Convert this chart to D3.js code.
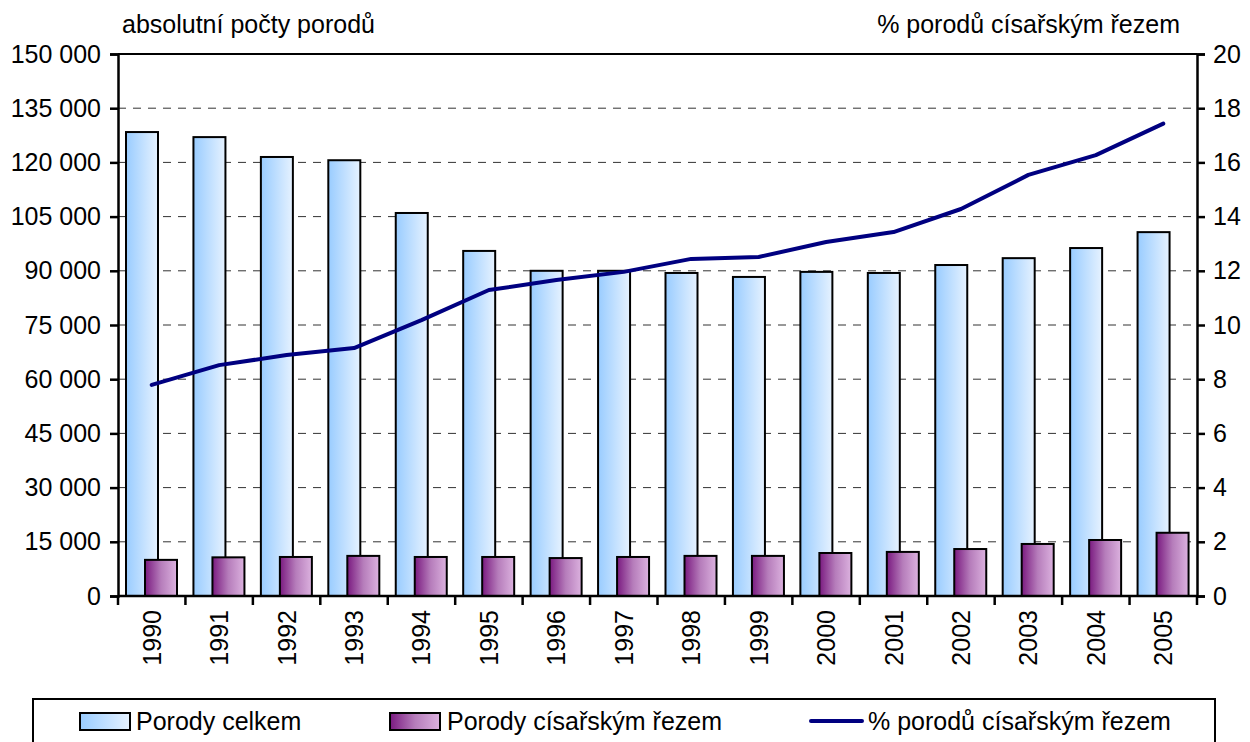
<!DOCTYPE html>
<html>
<head>
<meta charset="utf-8">
<script src="https://cdn.jsdelivr.net/npm/d3@7"></script>
<style>
body { margin: 0; background: #fff; }
text { font-family: "Liberation Sans", Arial, sans-serif; fill: #000; }
</style>
</head>
<body>
<script>
var width = 1250;
var height = 742;

var years = ['1990','1991','1992','1993','1994','1995','1996','1997','1998','1999','2000','2001','2002','2003','2004','2005'];
var porodyCelkem = [128400, 127000, 121500, 120600, 106000, 95500, 90000, 90000, 89400, 88300, 89700, 89400, 91600, 93500, 96300, 100700];
var porodyCisar = [10000, 10700, 10800, 11100, 10800, 10800, 10500, 10800, 11100, 11100, 11900, 12200, 13000, 14400, 15500, 17500];
var procentoCisar = [7.79, 8.52, 8.89, 9.15, 10.18, 11.29, 11.66, 11.96, 12.44, 12.51, 13.06, 13.43, 14.28, 15.54, 16.27, 17.43];
var leftTicks = [0, 15000, 30000, 45000, 60000, 75000, 90000, 105000, 120000, 135000, 150000];
var rightTicks = [0, 2, 4, 6, 8, 10, 12, 14, 16, 18, 20];

var plotL = 118, plotR = 1197, plotT = 54, plotB = 596;
var fs = '25px';

var svg = d3.select('body')
    .append('svg')
    .attr('width', width)
    .attr('height', height);

var defs = svg.append('defs');
var g1 = defs.append('linearGradient').attr('id', 'gBlue');
g1.append('stop').attr('offset', '0%').attr('stop-color', '#99ccff');
g1.append('stop').attr('offset', '100%').attr('stop-color', '#e6f2ff');
var g2 = defs.append('linearGradient').attr('id', 'gPurple');
g2.append('stop').attr('offset', '0%').attr('stop-color', '#7a1a80');
g2.append('stop').attr('offset', '50%').attr('stop-color', '#b67dbb');
g2.append('stop').attr('offset', '100%').attr('stop-color', '#dcb2df');

var x = d3.scaleBand().domain(years).range([plotL, plotR]).padding(0);
var yL = d3.scaleLinear().domain([0, 150000]).range([plotB, plotT]);
var yR = d3.scaleLinear().domain([0, 20]).range([plotB, plotT]);

var fmt = function(d) { return d3.format(',')(d).replace(/,/g, ' '); };

// gridlines
svg.append('g').selectAll('line')
    .data(leftTicks.filter(d => d > 0 && d < 150000))
    .enter().append('line')
    .attr('x1', plotL).attr('x2', plotR)
    .attr('y1', d => yL(d)).attr('y2', d => yL(d))
    .attr('stroke', '#333').attr('stroke-width', 1)
    .attr('stroke-dasharray', '8,7');
svg.append('line')
    .attr('x1', plotL).attr('x2', plotR)
    .attr('y1', yL(150000)).attr('y2', yL(150000))
    .attr('stroke', '#000').attr('stroke-width', 2);

var bw = 32;
// big bars
svg.append('g').selectAll('rect')
    .data(porodyCelkem)
    .enter().append('rect')
    .attr('x', (d, i) => x(years[i]) + 8)
    .attr('y', d => yL(d))
    .attr('width', bw)
    .attr('height', d => plotB - yL(d))
    .attr('fill', 'url(#gBlue)')
    .attr('stroke', '#000').attr('stroke-width', 2);
// small bars
svg.append('g').selectAll('rect')
    .data(porodyCisar)
    .enter().append('rect')
    .attr('x', (d, i) => x(years[i]) + 27)
    .attr('y', d => yL(d))
    .attr('width', bw)
    .attr('height', d => plotB - yL(d))
    .attr('fill', 'url(#gPurple)')
    .attr('stroke', '#000').attr('stroke-width', 2);

// line
var line = d3.line()
    .x((d, i) => x(years[i]) + x.bandwidth() / 2)
    .y(d => yR(d));
svg.append('path')
    .datum(procentoCisar)
    .attr('d', line)
    .attr('fill', 'none')
    .attr('stroke', '#000080')
    .attr('stroke-width', 4)
    .attr('stroke-linejoin', 'round')
    .attr('stroke-linecap', 'round');

// axes
var axL = d3.axisLeft(yL).tickValues(leftTicks).tickFormat(fmt).tickSize(8).tickPadding(9);
var gL = svg.append('g').attr('transform', 'translate(' + plotL + ',0)').call(axL);
var axR = d3.axisRight(yR).tickValues(rightTicks).tickSize(8).tickPadding(8);
var gR = svg.append('g').attr('transform', 'translate(' + plotR + ',0)').call(axR);
[gL, gR].forEach(function(g) {
    g.select('.domain').attr('stroke', '#000').attr('stroke-width', 2.5);
    g.selectAll('.tick line').attr('stroke', '#000').attr('stroke-width', 2.5);
    g.selectAll('.tick text').style('font-size', fs).style('font-family', '"Liberation Sans", Arial, sans-serif').attr('fill', '#000');
});

// bottom axis
svg.append('line')
    .attr('x1', plotL).attr('x2', plotR)
    .attr('y1', plotB).attr('y2', plotB)
    .attr('stroke', '#000').attr('stroke-width', 2.5);
svg.append('g').selectAll('line')
    .data(years.concat(['end']))
    .enter().append('line')
    .attr('x1', (d, i) => plotL + i * x.bandwidth())
    .attr('x2', (d, i) => plotL + i * x.bandwidth())
    .attr('y1', plotB).attr('y2', plotB + 9)
    .attr('stroke', '#000').attr('stroke-width', 2.5);
svg.append('g').selectAll('text')
    .data(years)
    .enter().append('text')
    .attr('transform', d => 'translate(' + (x(d) + x.bandwidth() / 2 + 9) + ',' + (plotB + 14) + ') rotate(-90)')
    .attr('text-anchor', 'end')
    .style('font-size', fs)
    .text(d => d);

// axis titles
svg.append('text').attr('x', 122).attr('y', 33).style('font-size', fs).text('absolutní počty porodů');
svg.append('text').attr('x', 1180).attr('y', 33).attr('text-anchor', 'end').style('font-size', fs).text('% porodů císařským řezem');

// legend
svg.append('rect').attr('x', 33).attr('y', 699).attr('width', 1182).attr('height', 60)
    .attr('fill', 'none').attr('stroke', '#000').attr('stroke-width', 2);
svg.append('rect').attr('x', 80).attr('y', 713).attr('width', 50).attr('height', 17)
    .attr('fill', 'url(#gBlue)').attr('stroke', '#000').attr('stroke-width', 2);
svg.append('text').attr('x', 136).attr('y', 730).style('font-size', fs).text('Porody celkem');
svg.append('rect').attr('x', 390).attr('y', 713).attr('width', 50).attr('height', 17)
    .attr('fill', 'url(#gPurple)').attr('stroke', '#000').attr('stroke-width', 2);
svg.append('text').attr('x', 447).attr('y', 730).style('font-size', fs).text('Porody císařským řezem');
svg.append('line').attr('x1', 811).attr('x2', 862).attr('y1', 721).attr('y2', 721)
    .attr('stroke', '#000080').attr('stroke-width', 4).attr('stroke-linecap', 'round');
svg.append('text').attr('x', 868).attr('y', 730).style('font-size', fs).text('% porodů císařským řezem');
</script>
</body>
</html>
